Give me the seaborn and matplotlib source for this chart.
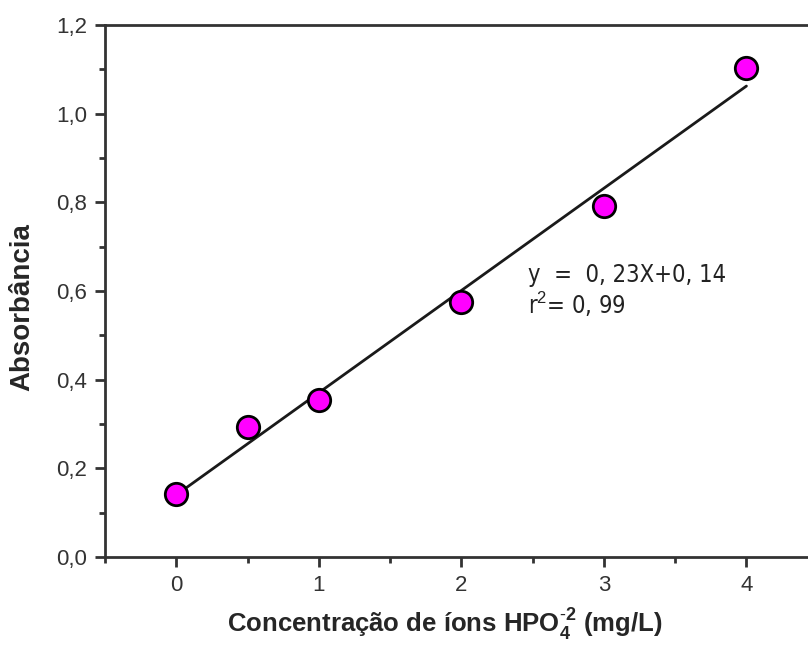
import numpy as np
import pandas as pd
import seaborn as sns
import matplotlib.pyplot as plt
from matplotlib.ticker import MultipleLocator, FuncFormatter

# valores
concentracao = [0, 0.5, 1, 2, 3, 4]
absorbancia = [0.142, 0.293, 0.354, 0.576, 0.792, 1.104]

data = pd.DataFrame({'conc': concentracao, 'abs': absorbancia})

sns.set_style('ticks')
plt.rcParams['font.family'] = ['Liberation Sans', 'DejaVu Sans']
plt.rcParams['mathtext.fontset'] = 'custom'
plt.rcParams['mathtext.rm'] = 'Liberation Sans'
plt.rcParams['mathtext.bf'] = 'Liberation Sans:bold'

fig = plt.figure(figsize=(8.08, 6.52), dpi=100)
ax = fig.add_axes([0.130, 0.1457, 0.882, 0.816])

sns.regplot(x='conc', y='abs', data=data, ci=None, ax=ax,
            scatter_kws={'s': 260, 'color': '#FF00FF', 'edgecolor': 'black',
                         'linewidths': 2, 'alpha': 1, 'zorder': 3},
            line_kws={'color': '#1a1a1a', 'linewidth': 2, 'zorder': 2})

ax.set_xlim(-0.5, 4.5)
ax.set_ylim(0, 1.2)
ax.xaxis.set_major_locator(MultipleLocator(1))
ax.xaxis.set_minor_locator(MultipleLocator(0.5))
ax.yaxis.set_major_locator(MultipleLocator(0.2))
ax.yaxis.set_minor_locator(MultipleLocator(0.1))
ax.yaxis.set_major_formatter(FuncFormatter(lambda v, p: f'{v:.1f}'.replace('.', ',')))
ax.xaxis.set_major_formatter(FuncFormatter(lambda v, p: f'{v:.0f}'))

for s in ax.spines.values():
    s.set_linewidth(2)
    s.set_color('#333333')
ax.tick_params(which='major', length=7, width=2, color='#333333',
               labelsize=16, labelcolor='#333333', pad=6)
ax.tick_params(which='minor', length=4, width=2, color='#333333')

ax.set_xlabel(r'Concentração de íons HPO$_\mathbf{4}^\mathbf{\text{-}2}$ (mg/L)',
              fontsize=18.5, fontweight='bold')
ax.xaxis.set_label_coords(0.477, -0.094)
ax.set_ylabel('Absorbância', fontsize=20, fontweight='bold')
ax.yaxis.set_label_coords(-0.098, 0.47)

ax.text(2.47, 0.60, 'y  =  0, 23X+0, 14\nr$^2$= 0, 99', fontsize=17,
        family=['DejaVu Sans', 'Liberation Sans'], fontstretch='condensed',
        color='#222222', va='center', linespacing=1.1)

fig.savefig('out.png', dpi=100)
